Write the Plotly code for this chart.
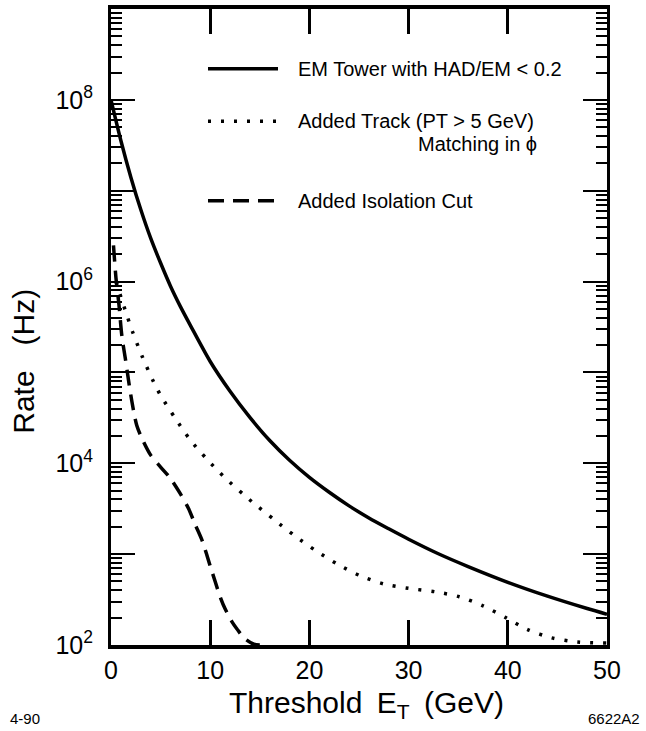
import plotly.graph_objects as go

# ---------------- data ----------------
em_tower_et = [0, 1, 2, 3, 4, 5, 6, 7, 8, 10, 12, 14, 16, 18, 20, 22, 24, 26, 28, 30, 33, 36, 40, 44, 48, 50]
em_tower_rate = [1.0e8, 3.55e7, 1.41e7, 6.2e6, 3.0e6, 1.6e6, 8.9e5, 5.3e5, 3.3e5, 1.32e5, 6.2e4, 3.2e4,
                 1.78e4, 1.08e4, 7.0e3, 4.8e3, 3.4e3, 2.5e3, 1.9e3, 1.46e3, 1.01e3, 7.3e2, 4.9e2, 3.45e2,
                 2.52e2, 2.18e2]

track_et = [0.5, 1.5, 2.2, 3.2, 4.3, 5.0, 6.5, 7.9, 9.7, 11.5, 13.4, 14.3, 16.5, 18.5, 20.6, 22.8,
            25.1, 27.5, 30, 32.7, 35.1, 37.5, 39.8, 42, 44.4, 47, 50]
track_rate = [1.0e6, 4.6e5, 2.75e5, 1.45e5, 7.85e4, 5.6e4, 3.1e4, 1.86e4, 1.1e4, 6.9e3, 4.5e3, 3.7e3,
              2.37e3, 1.6e3, 1.1e3, 7.8e2, 5.8e2, 4.7e2, 4.2e2, 3.85e2, 3.4e2, 2.7e2, 2.0e2, 1.48e2,
              1.2e2, 1.08e2, 1.05e2]

iso_et = [0.25, 0.5, 0.8, 1.1, 1.5, 2.0, 2.6, 3.2, 4.0, 5.0, 6.0, 7.0, 7.8, 8.5, 9.2, 10.0, 10.5,
          11.0, 11.5, 12.2, 12.7, 13.4, 14.4, 15.0]
iso_rate = [2.5e6, 1.1e6, 5.6e5, 2.5e5, 1.3e5, 5.6e4, 2.6e4, 1.8e4, 1.23e4, 9.1e3, 6.8e3, 4.6e3,
            3.2e3, 2.1e3, 1.4e3, 7.4e2, 5.0e2, 3.4e2, 2.5e2, 1.8e2, 1.5e2, 1.2e2, 1.02e2, 1.0e2]

x_ticks = [0, 10, 20, 30, 40, 50]
y_major = [1e2, 1e3, 1e4, 1e5, 1e6, 1e7, 1e8, 1e9]
y_major_text = ["10<sup>2</sup>", "", "10<sup>4</sup>", "", "10<sup>6</sup>", "", "10<sup>8</sup>", ""]

legend_labels = ["EM Tower with HAD/EM < 0.2", "Added Track (PT > 5 GeV)", "Added Isolation Cut"]
legend_sub = "Matching in \u03d5"

# ---------------- figure ----------------
W, H = 646, 731
L, R, T, B = 111, 39, 5, 86
pw, ph = W - L - R, H - T - B

def px_x(px):
    return (px - L) / pw

def px_y(py):
    return (H - B - py) / ph

FONT = "Liberation Sans, Arial, Helvetica, sans-serif"
dot_dash = "3px,10px"
dash_dash = "16px,9px"

fig = go.Figure()
fig.add_trace(go.Scatter(x=em_tower_et, y=em_tower_rate, mode="lines",
                         line=dict(color="black", width=3.5, shape="spline", smoothing=0.8),
                         showlegend=False, hoverinfo="skip"))
fig.add_trace(go.Scatter(x=track_et, y=track_rate, mode="lines",
                         line=dict(color="black", width=3.5, dash=dot_dash, shape="spline", smoothing=0.8),
                         showlegend=False, hoverinfo="skip"))
fig.add_trace(go.Scatter(x=iso_et, y=iso_rate, mode="lines",
                         line=dict(color="black", width=3.5, dash=dash_dash, shape="spline", smoothing=0.8),
                         showlegend=False, hoverinfo="skip"))

# custom legend
legend_rows = [(65, None), (118, dot_dash), (198, dash_dash)]
for (py, dash), label in zip(legend_rows, legend_labels):
    line = dict(color="black", width=3.5)
    if dash:
        line["dash"] = dash
    fig.add_shape(type="line", xref="paper", yref="paper",
                  x0=px_x(208), x1=px_x(278), y0=px_y(py), y1=px_y(py), line=line)
    fig.add_annotation(xref="paper", yref="paper", x=px_x(296), y=px_y(py), text=label,
                       showarrow=False, xanchor="left", yanchor="middle",
                       font=dict(family=FONT, size=20, color="black"))
fig.add_annotation(xref="paper", yref="paper", x=px_x(416), y=px_y(141), text=legend_sub,
                   showarrow=False, xanchor="left", yanchor="middle",
                   font=dict(family=FONT, size=20, color="black"))

# axis titles
fig.add_annotation(xref="paper", yref="paper", x=px_x(366), y=px_y(705),
                   text="Threshold\u2009 E<sub>T</sub>\u2009 (GeV)", showarrow=False,
                   xanchor="center", yanchor="middle",
                   font=dict(family=FONT, size=30, color="black"))
fig.add_annotation(xref="paper", yref="paper", x=px_x(24), y=px_y(360),
                   text="Rate\u00a0\u00a0\u00a0(Hz)", textangle=-90, showarrow=False,
                   xanchor="center", yanchor="middle",
                   font=dict(family=FONT, size=30, color="black"))
# corner labels
fig.add_annotation(xref="paper", yref="paper", x=px_x(8), y=px_y(719), text="4-90",
                   showarrow=False, xanchor="left", yanchor="middle",
                   font=dict(family=FONT, size=15, color="black"))
fig.add_annotation(xref="paper", yref="paper", x=px_x(642), y=px_y(719), text="6622A2",
                   showarrow=False, xanchor="right", yanchor="middle",
                   font=dict(family=FONT, size=15, color="black"))

fig.update_layout(
    width=W, height=H,
    margin=dict(l=L, r=R, t=T, b=B, pad=0),
    paper_bgcolor="white", plot_bgcolor="white",
    font=dict(family=FONT, color="black"),
    showlegend=False,
)
fig.update_xaxes(
    range=[0, 50], tickvals=x_ticks, ticktext=[str(v) for v in x_ticks],
    ticks="inside", ticklen=25, tickwidth=2.5, tickcolor="black",
    showline=True, linewidth=3.5, linecolor="black", mirror="ticks",
    showgrid=False, zeroline=False, ticklabelstandoff=0,
    tickfont=dict(family=FONT, size=25, color="black"),
)
fig.update_yaxes(
    type="log", range=[2, 9], tickvals=y_major, ticktext=y_major_text,
    ticks="inside", ticklen=24, tickwidth=2, tickcolor="black",
    minor=dict(ticks="inside", ticklen=11, tickwidth=1.8, tickcolor="black", dtick="D1", showgrid=False),
    showline=True, linewidth=3, linecolor="black", mirror="ticks",
    showgrid=False, zeroline=False, ticklabelstandoff=10,
    tickfont=dict(family=FONT, size=25, color="black"),
)

fig.write_html("out.html", config={"displayModeBar": False},
               post_script="document.body.style.margin='0px';")
